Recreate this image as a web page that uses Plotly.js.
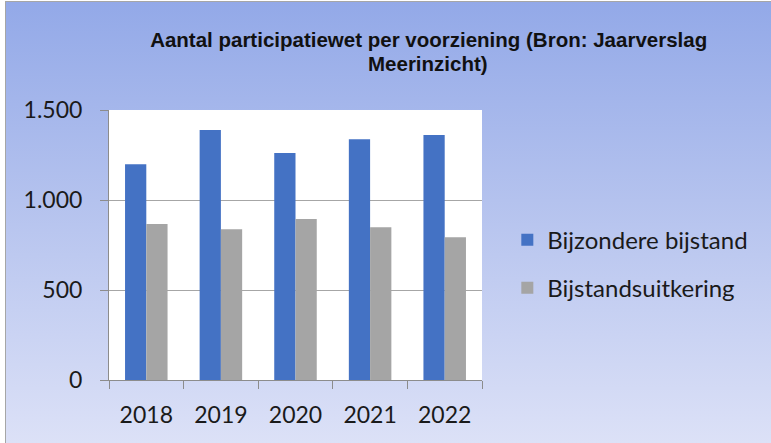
<!DOCTYPE html>
<html>
<head>
<meta charset="utf-8">
<script src="https://cdn.plot.ly/plotly-3.0.1.min.js"></script>
<style>
  html, body { margin: 0; padding: 0; background: #ffffff; }
  #wrap { position: relative; width: 771px; height: 443px; overflow: hidden; }
  #bg { position: absolute; left: 5px; top: 1px; right: 0; bottom: 0;
        border-left: 1px solid #a6a6a6; border-top: 1px solid #a6a6a6;
        background: linear-gradient(to bottom, #93a9e8 0%, #b4c2ee 45%, #dce1f7 100%); }
  #chart { position: absolute; left: 0; top: 0; width: 771px; height: 443px; }
</style>
</head>
<body>
<div id="wrap">
  <div id="bg"></div>
  <div id="chart"></div>
</div>
<script>
const years = ["2018", "2019", "2020", "2021", "2022"];
const bijzondereBijstand = [1198, 1389, 1261, 1337, 1361];
const bijstandsuitkering = [867, 837, 894, 848, 793];
const seriesNames = ["Bijzondere bijstand", "Bijstandsuitkering"];
const titleLine1 = "Aantal participatiewet per voorziening (Bron: Jaarverslag";
const titleLine2 = "Meerinzicht)";

const tickFont = { family: "Lato, 'Open Sans', sans-serif", size: 23, color: "#1a1a1a" };
const legendFont = { family: "Lato, 'Open Sans', sans-serif", size: 24, color: "#1a1a1a" };
const titleFont = { family: "'Liberation Sans', Arial, sans-serif", size: 20.5, color: "#111111", weight: "bold" };

const data = [
  { type: "bar", x: years, y: bijzondereBijstand, name: seriesNames[0],
    legendgroup: "a", marker: { color: "#4472C4" } },
  { type: "bar", x: years, y: bijstandsuitkering, name: seriesNames[1],
    legendgroup: "b", marker: { color: "#A5A5A5" } }
];

const layout = {
  width: 771, height: 443,
  margin: { l: 109, r: 289, t: 110, b: 63, pad: 0 },
  paper_bgcolor: "rgba(0,0,0,0)",
  plot_bgcolor: "#ffffff",
  separators: ",.",
  barmode: "group",
  bargap: 0.43,
  bargroupgap: 0,
  title: {
    text: titleLine1,
    font: titleFont,
    xref: "container", x: 0.556, xanchor: "center",
    yref: "container", y: 0.9108, yanchor: "middle"
  },
  annotations: [{
    text: titleLine2, font: titleFont, showarrow: false,
    xref: "paper", x: 0.855, xanchor: "center",
    yref: "paper", y: 1.1722, yanchor: "middle"
  }],
  xaxis: {
    type: "category",
    tickson: "boundaries",
    ticks: "outside", ticklen: 8, tickcolor: "#8c8c8c", tickwidth: 1,
    showline: true, linecolor: "#8c8c8c", linewidth: 1,
    showgrid: false,
    tickfont: tickFont,
    ticklabelstandoff: 14
  },
  yaxis: {
    range: [0, 1500], dtick: 500, tick0: 0,
    tickformat: ",d",
    ticks: "outside", ticklen: 8, tickcolor: "#8c8c8c", tickwidth: 1,
    showline: true, linecolor: "#8c8c8c", linewidth: 1,
    showgrid: true, gridcolor: "#a6a6a6", gridwidth: 1,
    zeroline: false,
    tickfont: tickFont,
    ticklabelstandoff: 13
  },
  showlegend: true,
  legend: {
    xref: "container", yref: "container",
    x: 0.658, xanchor: "left",
    y: 0.404, yanchor: "middle",
    bgcolor: "rgba(0,0,0,0)",
    font: legendFont,
    traceorder: "grouped",
    tracegroupgap: 14,
    itemwidth: 30
  }
};

Plotly.newPlot("chart", data, layout, { displayModeBar: false, staticPlot: true });
</script>
</body>
</html>
